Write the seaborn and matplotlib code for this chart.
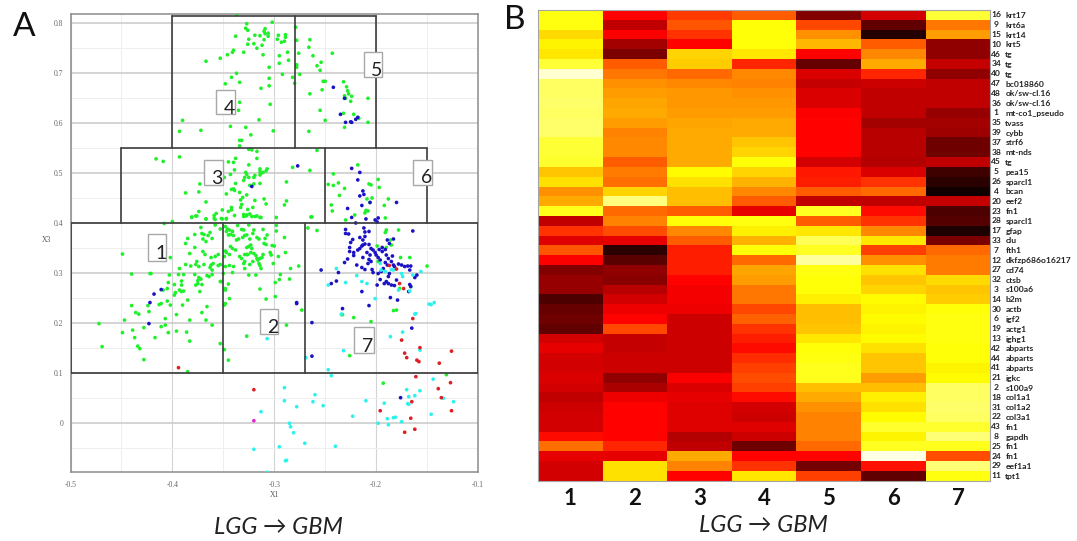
"""Cluster scatter (A) and hot-scale gene heatmap (B), LGG to GBM."""

import numpy as np
import pandas as pd
import matplotlib
matplotlib.use('Agg')
import matplotlib.pyplot as plt
from matplotlib.patches import Rectangle
import seaborn as sns

green_pts = [
    (-.381,.412),(-.377,.414),(-.367,.408),(-.359,.409),(-.352,.409),(-.347,.409),(-.327,.415),(-.330,.413),
    (-.322,.413),(-.317,.414),(-.313,.411),(-.298,.411),(-.264,.412),(-.400,.403),(-.408,.399),(-.372,.391),
    (-.358,.396),(-.353,.388),(-.348,.393),(-.346,.388),(-.347,.383),(-.344,.386),(-.341,.383),(-.343,.377),
    (-.345,.376),(-.340,.375),(-.336,.395),(-.332,.387),(-.330,.386),(-.325,.396),(-.320,.386),(-.311,.387),
    (-.321,.379),(-.329,.375),(-.331,.371),(-.327,.376),(-.337,.366),(-.335,.368),(-.324,.368),(-.317,.371),
    (-.315,.368),(-.309,.369),(-.307,.376),(-.310,.359),(-.308,.357),(-.302,.355),(-.300,.354),(-.298,.384),
    (-.298,.395),(-.290,.371),(-.371,.379),(-.369,.377),(-.363,.381),(-.365,.375),(-.378,.377),(-.385,.369),
    (-.387,.359),(-.370,.368),(-.367,.363),(-.361,.369),(-.378,.351),(-.383,.339),(-.370,.343),(-.368,.337),
    (-.362,.331),(-.358,.333),(-.355,.337),(-.376,.323),(-.377,.317),(-.374,.313),(-.369,.317),(-.382,.314),
    (-.387,.317),(-.393,.309),(-.362,.316),(-.360,.319),(-.363,.311),(-.361,.306),(-.353,.317),(-.355,.315),
    (-.348,.344),(-.347,.341),(-.344,.337),(-.349,.333),(-.344,.315),(-.340,.313),(-.348,.313),(-.341,.349),
    (-.343,.353),(-.338,.346),(-.334,.333),(-.332,.329),(-.329,.337),(-.327,.337),(-.326,.337),(-.323,.341),
    (-.327,.351),(-.325,.353),(-.323,.356),(-.322,.349),(-.320,.339),(-.318,.335),(-.317,.329),(-.316,.326),
    (-.314,.329),(-.312,.331),(-.311,.337),(-.315,.319),(-.314,.315),(-.313,.309),(-.321,.323),(-.324,.317),
    (-.329,.323),(-.329,.309),(-.330,.319),(-.304,.341),(-.296,.333),(-.289,.341),(-.301,.319),(-.303,.336),
    (-.284,.309),(-.276,.314),(-.294,.297),(-.325,.296),(-.318,.296),(-.341,.301),(-.350,.299),(-.361,.297),
    (-.366,.295),(-.364,.293),(-.378,.297),(-.394,.297),(-.389,.297),(-.403,.296),(-.421,.299),(-.295,.287),
    (-.285,.288),(-.299,.281),(-.374,.291),(-.372,.288),(-.375,.285),(-.375,.279),(-.377,.276),(-.371,.277),
    (-.353,.283),(-.352,.283),(-.345,.278),(-.348,.269),(-.348,.266),(-.373,.263),(-.391,.284),(-.391,.276),
    (-.398,.277),(-.404,.281),(-.409,.266),(-.405,.269),(-.393,.266),(-.389,.264),(-.391,.263),(-.397,.261),
    (-.398,.256),(-.405,.244),(-.411,.239),(-.413,.237),(-.402,.236),(-.390,.236),(-.385,.246),(-.344,.249),
    (-.308,.248),(-.299,.253),(-.314,.268),(-.348,.239),(-.349,.236),(-.366,.233),(-.371,.221),(-.273,.226),
    (-.396,.217),(-.402,.331),(-.440,.298),(-.422,.299),(-.440,.235),(-.436,.221),(-.433,.218),(-.424,.235),
    (-.423,.223),(-.447,.206),(-.472,.199),(-.449,.181),(-.439,.186),(-.437,.171),(-.434,.154),(-.432,.149),
    (-.428,.127),(-.469,.153),(-.428,.191),(-.407,.209),(-.407,.196),(-.411,.193),(-.404,.181),(-.396,.184),
    (-.386,.182),(-.417,.171),(-.383,.206),(-.383,.164),(-.367,.206),(-.361,.196),(-.353,.159),(-.349,.147),
    (-.345,.126),(-.327,.174),(-.385,.103),(-.337,.816),(-.302,.801),(-.327,.798),(-.328,.789),(-.326,.785),
    (-.338,.773),(-.319,.775),(-.314,.774),(-.309,.788),(-.310,.783),(-.306,.779),(-.309,.778),(-.306,.773),
    (-.310,.766),(-.325,.767),(-.326,.757),(-.320,.758),(-.317,.749),(-.312,.755),(-.297,.767),(-.296,.775),
    (-.293,.761),(-.290,.763),(-.289,.771),(-.289,.776),(-.367,.723),(-.353,.729),(-.346,.736),(-.341,.741),
    (-.340,.745),(-.330,.741),(-.311,.736),(-.295,.734),(-.287,.741),(-.295,.719),(-.286,.725),(-.305,.711),
    (-.337,.699),(-.342,.691),(-.348,.678),(-.334,.681),(-.305,.689),(-.305,.674),(-.313,.669),(-.292,.697),
    (-.334,.641),(-.335,.625),(-.304,.637),(-.315,.606),(-.343,.593),(-.328,.591),(-.323,.576),(-.301,.584),
    (-.372,.585),(-.393,.583),(-.390,.605),(-.334,.565),(-.332,.565),(-.334,.554),(-.282,.691),(-.280,.679),
    (-.279,.791),(-.278,.765),(-.278,.716),(-.278,.711),(-.276,.739),(-.275,.697),(-.265,.766),(-.266,.751),
    (-.265,.658),(-.266,.583),(-.262,.734),(-.243,.739),(-.258,.714),(-.254,.721),(-.255,.705),(-.252,.683),
    (-.250,.683),(-.253,.666),(-.255,.625),(-.250,.605),(-.232,.682),(-.229,.672),(-.228,.664),(-.227,.658),
    (-.224,.653),(-.231,.654),(-.230,.649),(-.225,.643),(-.208,.649),(-.232,.619),(-.222,.617),(-.217,.609),
    (-.231,.591),(-.208,.601),(-.258,.545),(-.242,.498),(-.247,.477),(-.242,.475),(-.237,.480),(-.231,.469),
    (-.236,.455),(-.207,.478),(-.205,.476),(-.198,.487),(-.197,.471),(-.188,.448),(-.192,.435),(-.209,.448),
    (-.204,.450),(-.206,.441),(-.244,.436),(-.243,.424),(-.221,.416),(-.211,.420),(-.210,.425),(-.208,.424),
    (-.230,.406),(-.191,.410),(-.218,.516),(-.263,.412),(-.288,.482),(-.288,.444),(-.290,.436),(-.282,.511),
    (-.265,.505),(-.178,.386),(-.258,.385),(-.267,.390),(-.190,.386),(-.186,.366),(-.185,.356),(-.190,.351),
    (-.199,.354),(-.176,.331),(-.167,.331),(-.150,.314),(-.325,.547),(-.322,.546),(-.317,.543),(-.317,.529),
    (-.393,.532),(-.345,.522),(-.340,.521),(-.338,.529),(-.325,.516),(-.339,.506),(-.328,.501),(-.327,.497),
    (-.343,.497),(-.349,.491),(-.329,.491),(-.325,.491),(-.330,.485),(-.320,.491),(-.319,.495),(-.314,.508),
    (-.314,.503),(-.313,.499),(-.314,.496),(-.311,.501),(-.307,.508),(-.308,.504),(-.320,.478),(-.324,.475),
    (-.314,.479),(-.338,.479),(-.373,.478),(-.387,.460),(-.374,.462),(-.347,.458),(-.342,.467),(-.340,.468),
    (-.339,.465),(-.334,.461),(-.331,.451),(-.333,.446),(-.327,.456),(-.367,.442),(-.332,.437),(-.333,.431),
    (-.342,.431),(-.342,.426),(-.351,.426),(-.319,.445),(-.310,.448),(-.308,.438),(-.321,.431),(-.326,.427),
    (-.330,.417),(-.327,.416),(-.324,.418),(-.328,.414),(-.339,.415),(-.319,.413),(-.314,.411),(-.345,.423),
    (-.347,.408),(-.351,.408),(-.357,.419),(-.359,.415),(-.367,.408),(-.374,.423),(-.376,.414),(-.381,.411),
    (-.358,.407),(-.416,.528),(-.409,.523),(-.449,.338),(-.191,.381),(-.198,.323),(-.166,.273),(-.177,.269),
    (-.183,.225),(-.180,.226),(-.234,.217),(-.233,.217),(-.222,.211),(-.288,.196),(-.205,.203),(-.226,.135),
    (-.193,.080),(-.131,.097),
]

blue_pts = [
    (-.411,.267),(-.418,.258),(-.422,.241),(-.423,.199),(-.242,.671),(-.231,.649),(-.235,.617),(-.230,.601),
    (-.225,.602),(-.224,.601),(-.220,.607),(-.218,.611),(-.224,.509),(-.216,.501),(-.218,.486),(-.213,.464),
    (-.212,.457),(-.216,.454),(-.206,.441),(-.180,.441),(-.214,.435),(-.228,.429),(-.224,.411),(-.220,.400),
    (-.210,.408),(-.201,.406),(-.198,.410),(-.199,.402),(-.277,.514),(-.322,.473),(-.230,.387),(-.230,.379),
    (-.212,.390),(-.211,.382),(-.207,.383),(-.164,.384),(-.227,.378),(-.216,.371),(-.211,.373),(-.213,.366),
    (-.223,.367),(-.225,.361),(-.226,.351),(-.226,.343),(-.222,.341),(-.222,.335),(-.218,.346),(-.216,.349),
    (-.214,.354),(-.213,.356),(-.211,.358),(-.207,.357),(-.205,.349),(-.203,.346),(-.201,.341),(-.209,.341),
    (-.206,.336),(-.207,.327),(-.205,.323),(-.208,.319),(-.213,.331),(-.228,.328),(-.231,.321),(-.219,.316),
    (-.214,.311),(-.211,.307),(-.254,.306),(-.237,.301),(-.244,.279),(-.239,.284),(-.204,.307),(-.203,.301),
    (-.198,.299),(-.195,.303),(-.198,.331),(-.196,.326),(-.191,.321),(-.188,.329),(-.184,.334),(-.185,.323),
    (-.189,.316),(-.193,.309),(-.183,.316),(-.182,.313),(-.178,.318),(-.175,.316),(-.172,.313),(-.169,.314),
    (-.166,.314),(-.167,.306),(-.160,.296),(-.162,.291),(-.187,.299),(-.188,.293),(-.190,.283),(-.188,.279),
    (-.192,.279),(-.196,.287),(-.199,.276),(-.185,.276),(-.182,.275),(-.180,.286),(-.167,.277),(-.166,.273),
    (-.168,.263),(-.214,.263),(-.186,.251),(-.179,.246),(-.207,.235),(-.233,.229),(-.191,.347),(-.189,.366),
    (-.183,.368),(-.187,.359),(-.197,.347),(-.194,.351),(-.194,.343),(-.190,.336),(-.200,.336),(-.278,.239),
    (-.278,.241),(-.263,.201),(-.263,.134),(-.165,.190),(-.176,.051),
]

cyan_pts = [
    (-.313,.023),(-.320,-.052),(-.307,-.098),(-.307,.169),(-.239,.309),(-.247,.276),(-.230,.281),(-.214,.283),
    (-.219,.295),(-.209,.279),(-.201,.249),(-.196,.319),(-.195,.306),(-.191,.303),(-.185,.307),(-.183,.306),
    (-.175,.299),(-.174,.293),(-.164,.296),(-.156,.303),(-.178,.266),(-.167,.264),(-.148,.238),(-.146,.237),
    (-.143,.241),(-.162,.218),(-.234,.218),(-.232,.145),(-.269,.131),(-.247,.107),(-.244,.095),(-.290,.071),
    (-.290,.045),(-.278,.033),(-.260,.057),(-.262,.043),(-.252,.035),(-.210,.045),(-.223,.014),(-.285,.000),
    (-.284,-.007),(-.281,-.019),(-.270,-.040),(-.295,-.047),(-.240,-.046),(-.289,-.075),(-.288,-.074),(-.186,.173),
    (-.174,.182),(-.161,.219),(-.157,.146),(-.144,.088),(-.170,.067),(-.168,.053),(-.162,.055),(-.157,.065),
    (-.192,.040),(-.169,.039),(-.168,.038),(-.189,.009),(-.183,.011),(-.181,.012),(-.175,.003),(-.198,.000),
    (-.188,-.003),(-.146,.018),(-.134,.050),(-.124,.043),
]

red_pts = [
    (-.394,.111),(-.320,.067),(-.164,.209),(-.175,.166),(-.157,.151),(-.172,.140),(-.170,.131),(-.160,.126),
    (-.158,.123),(-.138,.120),(-.126,.144),(-.161,.093),(-.127,.081),(-.139,.069),(-.136,.051),(-.165,.043),
    (-.196,.025),(-.126,.025),(-.166,.010),(-.162,-.012),(-.172,-.018),(-.180,.308),(-.187,.315),(-.177,.279),
    (-.173,.269),
]

magenta_pts = [(-.320,.005)]

# cluster boundaries in x1/x3 units: (x from, x to, y)
h_lines = [(-.5,-.1,.1),(-.5,-.1,.4),(-.45,-.15,.55),(-.4,-.2,.813)]
# (x, y from, y to)
v_lines = [(-.5,.1,.4),(-.35,.1,.4),(-.27,.1,.4),(-.1,.1,.4),(-.45,.4,.55),(-.25,.4,.55),(-.15,.4,.55),
           (-.4,.55,.813),(-.28,.55,.813),(-.2,.55,.813)]

# cluster tags: box x0, x1, y0, y1 and where the digit sits
tag_names = ['1','2','3','4','5','6','7']
tag_x0 = [-.424,-.314,-.369,-.357,-.212,-.164,-.222]
tag_x1 = [-.406,-.296,-.350,-.339,-.194,-.145,-.202]
tag_y0 = [.324,.178,.476,.618,.692,.476,.140]
tag_y1 = [.378,.228,.526,.666,.742,.526,.192]
tag_tx = [-.411,-.301,-.356,-.344,-.200,-.150,-.208]
tag_ty = [.340,.192,.488,.628,.704,.490,.154]

gene_ids = [16,9,15,10,46,34,40,47,48,36,1,35,39,37,38,45,5,26,4,20,23,28,17,33,7,12,27,32,3,14,30,6,19,13,
            42,44,41,21,2,18,31,22,43,8,25,24,29,11]
gene_names = ['krt17','krt6a','krt14','krt5','tg','tg','tg','bc018860','ok/sw-cl.16','ok/sw-cl.16',
              'mt-co1_pseudo','tvass','cybb','strf6','mt-nds','tg','pea15','sparcl1','bcan','eef2','fn1',
              'sparcl1','gfap','clu','fth1','dkfzp686o16217','cd74','ctsb','s100a6','b2m','actb','igf2',
              'actg1','ighg1','abparts','abparts','abparts','igkc','s100a9','col1a1','col1a2','col3a1',
              'fn1','gapdh','fn1','fn1','eef1a1','tpt1']
cluster_labels = ['1','2','3','4','5','6','7']

expression = [
    [.76,.37,.45,.50,.18,.30,.80],
    [.76,.27,.49,.75,.47,.13,.54],
    [.69,.36,.44,.75,.58,.04,.60],
    [.73,.23,.37,.75,.64,.50,.20],
    [.71,.17,.68,.71,.37,.57,.20],
    [.80,.50,.67,.42,.14,.62,.28],
    [.95,.54,.52,.57,.31,.42,.20],
    [.84,.58,.57,.56,.28,.29,.27],
    [.84,.60,.59,.58,.31,.27,.27],
    [.85,.61,.59,.59,.31,.27,.27],
    [.84,.62,.60,.60,.36,.27,.21],
    [.85,.60,.61,.62,.37,.23,.23],
    [.85,.56,.62,.62,.37,.26,.22],
    [.80,.57,.62,.66,.37,.26,.15],
    [.80,.57,.62,.68,.37,.26,.15],
    [.79,.50,.62,.75,.30,.25,.27],
    [.66,.55,.74,.68,.40,.31,.08],
    [.70,.53,.70,.63,.41,.44,.05],
    [.58,.68,.65,.57,.50,.52,.01],
    [.62,.87,.65,.50,.27,.27,.28],
    [.77,.52,.50,.33,.78,.38,.10],
    [.27,.56,.75,.76,.50,.44,.11],
    [.44,.48,.57,.72,.71,.57,.03],
    [.32,.33,.50,.63,.83,.71,.17],
    [.49,.05,.41,.75,.78,.46,.52],
    [.36,.12,.41,.52,.90,.58,.55],
    [.18,.20,.41,.61,.76,.70,.55],
    [.21,.19,.37,.60,.75,.66,.69],
    [.21,.26,.35,.54,.75,.68,.66],
    [.10,.30,.35,.54,.72,.74,.67],
    [.14,.34,.34,.47,.65,.73,.75],
    [.15,.37,.29,.51,.65,.74,.76],
    [.13,.47,.29,.44,.66,.73,.76],
    [.30,.28,.29,.41,.71,.74,.76],
    [.33,.28,.29,.38,.75,.70,.75],
    [.30,.29,.29,.43,.76,.66,.75],
    [.30,.29,.29,.46,.77,.66,.73],
    [.31,.20,.36,.48,.77,.60,.74],
    [.30,.24,.31,.46,.65,.65,.84],
    [.27,.34,.33,.38,.62,.72,.84],
    [.29,.37,.32,.30,.58,.70,.85],
    [.30,.37,.32,.29,.56,.74,.84],
    [.30,.37,.32,.32,.56,.79,.79],
    [.38,.37,.25,.29,.56,.73,.86],
    [.53,.42,.27,.15,.52,.78,.77],
    [.33,.33,.62,.37,.37,.97,.48],
    [.30,.70,.56,.44,.16,.39,.86],
    [.30,.70,.37,.71,.46,.13,.76],
]

palette = {'green':'#1ef02a','blue':'#1a12c4','cyan':'#2cf2ee','red':'#de1f24','magenta':'#e02ad0'}

W, H = 1077, 541


def axes_box(left, top, right, bottom):
    return [left / W, 1 - bottom / H, (right - left) / W, (bottom - top) / H]


def plot_scatter(fig):
    ax = fig.add_axes(axes_box(70.5, 14, 478, 472.3))
    frames = []
    for name, pts in [('green', green_pts), ('blue', blue_pts), ('cyan', cyan_pts),
                      ('red', red_pts), ('magenta', magenta_pts)]:
        d = pd.DataFrame(pts, columns=['X1', 'X3'])
        d['group'] = name
        frames.append(d)
    df = pd.concat(frames, ignore_index=True)
    sns.scatterplot(data=df, x='X1', y='X3', hue='group', palette=palette, s=7, linewidth=0,
                    legend=False, ax=ax, zorder=3)

    ax.set_xlim(-.5, -.1)
    ax.set_ylim(-.098, .8174)
    ax.set_xticks([-.5, -.4, -.3, -.2, -.1])
    ax.set_xticklabels(['-0.5', '-0.4', '-0.3', '-0.2', '-0.1'])
    ax.set_xticks([-.45, -.35, -.25, -.15], minor=True)
    ax.set_yticks([0, .1, .2, .3, .4, .5, .6, .7, .8])
    ax.set_yticklabels(['0', '0.1', '0.2', '0.3', '0.4', '0.5', '0.6', '0.7', '0.8'])
    ax.set_yticks([-.05, .05, .15, .25, .35, .45, .55, .65, .75], minor=True)
    ax.grid(True, which='major', axis='y', color='#c9c9c9', lw=1.1)
    ax.grid(True, which='major', axis='x', color='#d4d4d4', lw=0.8)
    ax.grid(True, which='minor', color='#eeeeee', lw=0.7)
    ax.set_axisbelow(True)
    ax.tick_params(which='both', colors='#666666', labelsize=5.5, length=2, width=0.6)
    ax.tick_params(axis='x', which='major', pad=4)
    ax.tick_params(axis='y', which='major', pad=3)
    for lab in ax.get_xticklabels() + ax.get_yticklabels():
        lab.set_family('Liberation Serif')
    for sp in ax.spines.values():
        sp.set_visible(True)
        sp.set_color('#8c8c8c')
        sp.set_linewidth(1.1)

    ax.set_xlabel('X1', fontsize=5.5, color='#555555', family='Liberation Serif')
    ax.set_ylabel('X3', fontsize=5.5, color='#555555', family='Liberation Serif', rotation=0)
    ax.xaxis.set_label_coords(0.5, -0.041)
    ax.yaxis.set_label_coords(-0.06, 0.498)

    for x0, x1, y in h_lines:
        ax.plot([x0, x1], [y, y], color='#3c3c3c', lw=1.2, zorder=4)
    for x, y0, y1 in v_lines:
        ax.plot([x, x], [y0, y1], color='#3c3c3c', lw=1.2, zorder=4)

    for i, name in enumerate(tag_names):
        ax.add_patch(Rectangle((tag_x0[i], tag_y0[i]), tag_x1[i] - tag_x0[i], tag_y1[i] - tag_y0[i],
                               facecolor='white', edgecolor='#a8a8a8', lw=1.0, zorder=5))
        ax.text(tag_tx[i], tag_ty[i], name, fontsize=14, color='#222222', family='Lato',
                ha='center', va='center', zorder=6)
    return ax


def plot_heatmap(fig):
    ax = fig.add_axes(axes_box(538, 10, 990.3, 480.7))
    table = pd.DataFrame(expression, columns=cluster_labels, index=gene_names)
    sns.heatmap(table, cmap='hot', vmin=0, vmax=1, cbar=False, ax=ax,
                xticklabels=cluster_labels, yticklabels=gene_names)
    ax.yaxis.tick_right()
    ax.tick_params(axis='y', length=0, pad=10.8, labelsize=6.1, labelrotation=0)
    ax.tick_params(axis='x', length=0, pad=5, labelsize=16, labelrotation=0)
    for lab in ax.get_yticklabels():
        lab.set_family('Lato')
        lab.set_fontweight('bold')
        lab.set_color('#222222')
    for lab in ax.get_xticklabels():
        lab.set_family('Lato')
        lab.set_fontweight('bold')
        lab.set_color('#111111')
    for row, num in enumerate(gene_ids):
        ax.annotate(str(num), xy=(1, row + 0.5), xycoords=('axes fraction', 'data'),
                    xytext=(4.3, 0), textcoords='offset points', fontsize=6.1, fontweight='bold',
                    family='Lato', color='#222222', ha='center', va='center')
    for sp in ax.spines.values():
        sp.set_visible(True)
        sp.set_color('#a5a5a5')
        sp.set_linewidth(0.8)
    return ax


def main():
    sns.set_style('white')
    fig = plt.figure(figsize=(W / 100, H / 100), dpi=100)
    fig.patch.set_facecolor('white')

    plot_scatter(fig)
    plot_heatmap(fig)

    fig.text(24 / W, 1 - 27.5 / H, 'A', fontsize=24, family='Lato', color='#111111', ha='center', va='center')
    fig.text(515 / W, 1 - 20 / H, 'B', fontsize=24, family='Lato', color='#111111', ha='center', va='center')
    for cx, cy in [(278, 528), (763, 526)]:
        fig.text(cx / W, 1 - cy / H, 'LGG \u2192 GBM', fontsize=17, style='italic', color='#222222',
                 family=['Lato', 'DejaVu Sans'], ha='center', va='center')

    fig.savefig('out.png', dpi=100, facecolor='white')
    plt.close(fig)


if __name__ == '__main__':
    main()
